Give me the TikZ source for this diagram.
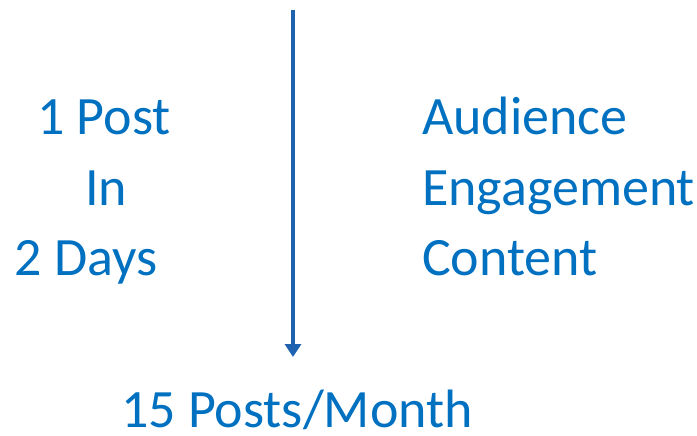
\documentclass[tikz,border=0pt]{standalone}
\usepackage{fontspec}
\setmainfont{Carlito}
\usepackage{tikz}
\usetikzlibrary{positioning,arrows.meta}
\definecolor{textblue}{RGB}{0,112,192}
\definecolor{arrowblue}{RGB}{30,98,176}

\begin{document}
\begin{tikzpicture}[x=1pt, y=-1pt,
  every node/.style = {inner sep=0pt, text=textblue,
    font=\fontsize{54}{60}\selectfont},
  left line/.style = {anchor=base},
  right line/.style = {anchor=base west}]
    \useasboundingbox (0,0) rectangle (697,436);
    % left column
    \node[left line] (post) at (104,135) {1 Post};
    \node[left line] (in)   at (106,205) {In};
    \node[left line] (days) at (86,275)  {2 Days};
    % right column
    \node[right line] (audience)   at (422,135) {Audience};
    \node[right line] (engagement) at (422,205) {Engagement};
    \node[right line] (content)    at (422,275) {Content};
    % bottom
    \node[anchor=base] (total) at (297,427) {15 Posts/Month};
    \coordinate (start) at (293,10);
    \coordinate (tip) at (293,357);
	\draw[arrowblue, line width=4pt, -{Triangle[width=16pt,length=13pt]}] (start) -- (tip);
\end{tikzpicture}
\end{document}
